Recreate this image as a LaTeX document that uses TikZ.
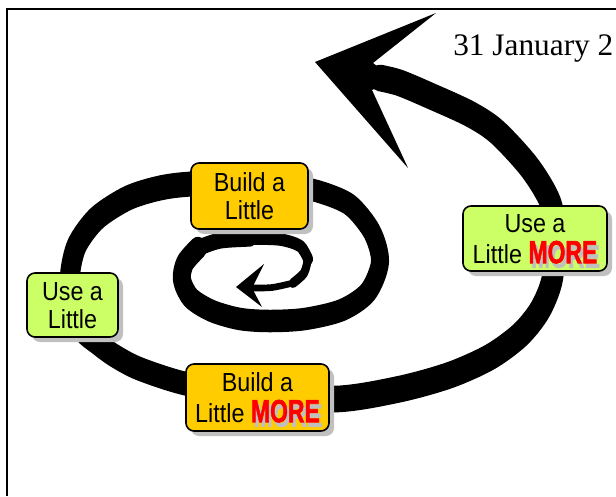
\documentclass[tikz,border=0pt]{standalone}
\usepackage{fontspec}
\setmainfont{Liberation Serif}
\setsansfont{Liberation Sans}
\newfontfamily\morefont[FakeBold=2]{Liberation Sans Bold}
\usetikzlibrary{shadows}
\definecolor{boxorange}{HTML}{FFCC00}
\definecolor{boxgreen}{HTML}{CCFF66}
\definecolor{shadowgray}{HTML}{C0C0C0}
\definecolor{morered}{HTML}{FF0000}
\newcommand\mword[1]{\scalebox{0.8}[1]{\fontsize{21.5}{21}\morefont #1}}
\newcommand\MoreWord{\makebox[0pt][l]{\hspace{2pt}\raisebox{-3pt}{\textcolor{shadowgray}{\mword{MORE}}}}\textcolor{morered}{\mword{MORE}}}
\newcommand\cardtext[1]{\raisebox{-2.8pt}[\height][\depth]{\scalebox{1}[1.12]{\begin{tabular}{@{}c@{}}#1\end{tabular}}}}
\begin{document}
\begin{tikzpicture}[x=0.75pt,y=-0.75pt,
  card/.style={draw=black, line width=1.2pt, rounded corners=6pt, inner sep=0pt,
    align=center, font=\sffamily\fontsize{17.5}{18.7}\selectfont,
    drop shadow={shadow xshift=3.75pt, shadow yshift=-3.75pt, fill=shadowgray, opacity=1}},
  spir/.style={draw=black, line cap=round, line join=round}]
\useasboundingbox (0,0) rectangle (616,496);
% frame
\draw[line width=1.5pt] (7,496) -- (7,9) -- (616,9);
% date
\node[anchor=base west, inner sep=0pt, font=\fontsize{23.5}{28}\selectfont] (date) at (453,55) {31 January 2};
% spiral body
\begin{scope}[transform canvas={yscale=1.25}, y=-0.6pt]
  \draw[spir, line width=4pt] plot[smooth] coordinates {(250,288) (272,287.5) (293,283)};
  \draw[spir, line width=6pt] plot[smooth] coordinates {(293,283) (304,273) (308,259)};
  \draw[spir, line width=7.5pt] plot[smooth] coordinates {(308,259) (300,246) (280,239.5) (250,238.5)};
  \draw[spir, line width=9.75pt] plot[smooth] coordinates {(250,238.5) (220,240.5) (198,248)};
  \draw[spir, line width=13.5pt] plot[smooth] coordinates {(198,248) (185,263) (182,280) (191,298) (212,311) (240,319) (270,321) (305,319) (342,310) (368,292) (380,262) (372,232) (350,205) (320,192) (290,186) (250,183)};
  \draw[spir, line width=15pt] plot[smooth] coordinates {(250,183) (192,184) (160,188) (128,198) (97,218) (77,245) (70,275) (72,305)};
  \draw[spir, line width=14.25pt] plot[smooth] coordinates {(72,305) (82,330) (97,343) (115,356) (140,369) (187,384) (255,395)};
  \draw[spir, line width=16pt] plot[smooth] coordinates {(255,395) (337,399) (400,389) (450,375) (490,357) (520,335) (540,310) (552,280) (555,240) (551,204) (530,168) (497,132) (470,114) (433,97) (400,83) (380,78)};
\end{scope}
% arrow heads
\fill[black] (315,62) -- (436,13) -- (373,63) -- (395,80) -- (372,90) -- (408,168) -- cycle;
\fill[black] (236,287) -- (264,264) -- (252,288) -- (262,307) -- cycle;
% boxes
\node[card, fill=boxorange, minimum width=87.75pt, minimum height=49.5pt] (b1) at (249.5,196) {\cardtext{Build a\\Little}};
\node[card, fill=boxgreen, minimum width=68.25pt, minimum height=48pt] (u1) at (72.5,305) {\cardtext{Use a\\Little}};
\node[card, fill=boxorange, minimum width=107.25pt, minimum height=50.25pt] (b2) at (257.5,397.5) {\cardtext{Build a\\Little \MoreWord}};
\node[card, fill=boxgreen, minimum width=108pt, minimum height=48.75pt] (u2) at (535,238.5) {\cardtext{Use a\\Little \MoreWord}};
\end{tikzpicture}
\end{document}
